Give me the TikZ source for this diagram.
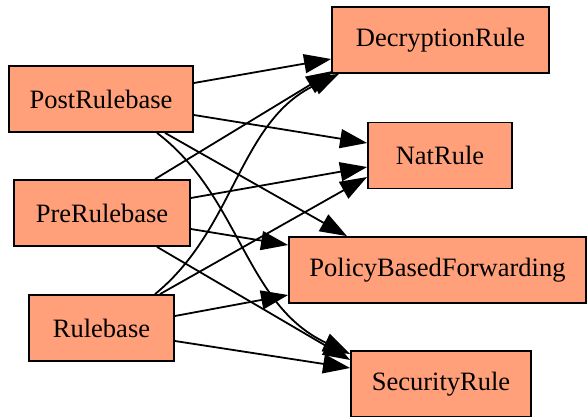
\documentclass[tikz,border=0pt]{standalone}
\usepackage{fontspec}
\setmainfont{Liberation Serif}
\usetikzlibrary{arrows.meta}
\newcommand{\unitsize}{1pt}
\definecolor{rulefill}{HTML}{FFA07A}

\begin{document}
\begin{tikzpicture}
\useasboundingbox (0,0) rectangle (587*\unitsize,-417*\unitsize);
\tikzstyle{every node}=[draw,
			rectangle,
			fill=rulefill,
			line width=1.8pt,
			minimum height=66*\unitsize,
			inner sep=0pt,
			font=\rmfamily\fontsize{26.5}{30}\selectfont
			]
\tikzstyle{edge}=[line width=1.8pt, -{Triangle[length=27pt,width=19pt]}]


\node[minimum width=184*\unitsize] (post) at (101*\unitsize,-99*\unitsize) {PostRulebase};
        

\node[minimum width=176*\unitsize] (pre) at (102*\unitsize,-213*\unitsize) {PreRulebase};
        

\node[minimum width=145*\unitsize] (rule) at (101.5*\unitsize,-328*\unitsize) {Rulebase};
        

\node[minimum width=217*\unitsize] (decr) at (440.5*\unitsize,-40*\unitsize) {DecryptionRule};
        

\node[minimum width=144*\unitsize] (nat) at (440*\unitsize,-155.5*\unitsize) {NatRule};
        

\node[minimum width=297*\unitsize] (pbf) at (437.5*\unitsize,-270*\unitsize) {PolicyBasedForwarding};
        

\node[minimum width=180*\unitsize] (sec) at (441*\unitsize,-384*\unitsize) {SecurityRule};
        

% PostRulebase
\draw[edge] ([yshift=16*\unitsize]post.east) -- ([yshift=-19*\unitsize]decr.west);
    

\draw[edge] ([yshift=-16*\unitsize]post.east) -- ([yshift=12.5*\unitsize]nat.west);
    

\draw[edge] ([xshift=64*\unitsize]post.south) -- ([xshift=-90.5*\unitsize]pbf.north);
    

\draw[edge] ([xshift=56*\unitsize]post.south) .. controls +(83*\unitsize,-63*\unitsize) and +(-105*\unitsize,49*\unitsize) .. ([yshift=30*\unitsize]sec.west);
    

% PreRulebase
\draw[edge] ([xshift=53*\unitsize]pre.north) -- ([xshift=2*\unitsize,yshift=3*\unitsize]decr.south west);
    

\draw[edge] ([yshift=15*\unitsize]pre.east) -- ([yshift=-11.5*\unitsize]nat.west);
    

\draw[edge] ([yshift=-16*\unitsize]pre.east) -- ([yshift=25*\unitsize]pbf.west);
    

\draw[edge] ([xshift=55*\unitsize]pre.south) -- ([yshift=24*\unitsize]sec.west);
    

% Rulebase
\draw[edge] ([xshift=53.5*\unitsize]rule.north) .. controls +(80*\unitsize,65*\unitsize) and +(-100*\unitsize,-47*\unitsize) .. ([xshift=8*\unitsize]decr.south west);
    

\draw[edge] ([xshift=58.5*\unitsize]rule.north) -- ([yshift=-21.5*\unitsize]nat.west);
    

\draw[edge] ([yshift=12*\unitsize]rule.east) -- ([yshift=-25*\unitsize]pbf.west);
    

\draw[edge] ([yshift=-13*\unitsize]rule.east) -- ([yshift=16*\unitsize]sec.west);
    

\end{tikzpicture}
\end{document}
